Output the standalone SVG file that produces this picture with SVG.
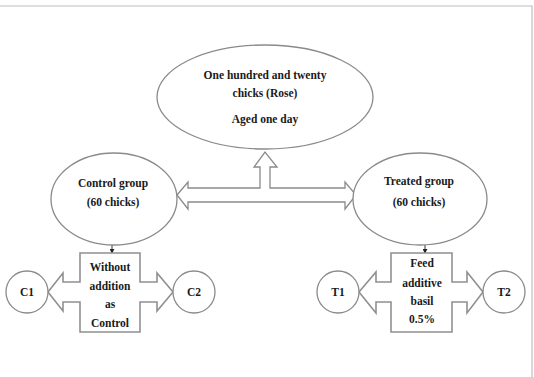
<svg xmlns="http://www.w3.org/2000/svg" width="534" height="377" viewBox="0 0 534 377">
<defs>
<style>
.shape{fill:#fff;stroke:#8a8a8a;stroke-width:1.3}
.blk{fill:#fff;stroke:#909090;stroke-width:1.6}
.t{font-family:'Liberation Serif','DejaVu Serif',serif;font-weight:700;font-size:11.5px;fill:#1a1a1a;text-anchor:middle}
.lk{stroke:#333;stroke-width:1}
</style>
<marker id="ah" viewBox="0 0 6 6" refX="5" refY="3" markerWidth="5" markerHeight="5" orient="auto">
<path d="M0,0 L6,3 L0,6 z" fill="#222"/>
</marker>
</defs>
<rect x="0" y="0" width="534" height="377" fill="#fff"/>
<path d="M0,6 H532 V377" fill="none" stroke="#bdbdbd" stroke-width="1.2"/>

<g id="connectors">
<polygon class="shape" points="177,195 188,182 188,188 260,188 260,167 254,167 265,152 277,167 270,167 270,188 345,188 345,182 356,195 345,209 345,202 188,202 188,209"/>
<line class="lk" x1="112" y1="245" x2="112" y2="253" marker-end="url(#ah)"/>
<line class="lk" x1="425" y1="245" x2="425" y2="253" marker-end="url(#ah)"/>
</g>

<g id="top">
<ellipse class="shape" cx="265" cy="97" rx="108" ry="52"/>
<text class="t" x="265" y="79" font-family="Liberation Serif">One hundred and twenty</text>
<text class="t" x="265" y="97">chicks (Rose)</text>
<text class="t" x="265" y="123">Aged one day</text>
</g>

<g id="control">
<ellipse class="shape" cx="114" cy="199" rx="63" ry="46"/>
<text class="t" x="113" y="187">Control group</text>
<text class="t" x="113" y="206">(60 chicks)</text>
</g>

<g id="treated">
<ellipse class="shape" cx="420" cy="199" rx="67" ry="46"/>
<text class="t" x="419" y="185">Treated group</text>
<text class="t" x="419" y="206">(60 chicks)</text>
</g>

<g id="control-box">
<polygon class="blk" points="80,253 140,253 140,282 157,282 157,273 173,292 157,311 157,302 140,302 140,332 80,332 80,302 63,302 63,311 48,292 63,273 63,282 80,282"/>
<text class="t" x="110" y="271">Without</text>
<text class="t" x="110" y="290">addition</text>
<text class="t" x="110" y="308">as</text>
<text class="t" x="110" y="327">Control</text>
</g>

<g id="treated-box">
<polygon class="blk" points="391,253 452,253 452,282 467,282 467,272 483,292 467,313 467,302 452,302 452,332 391,332 391,302 376,302 376,313 359,292 376,272 376,282 391,282"/>
<text class="t" x="422" y="267">Feed</text>
<text class="t" x="422" y="287">additive</text>
<text class="t" x="422" y="305">basil</text>
<text class="t" x="422" y="323">0.5%</text>
</g>

<g id="C1">
<circle class="shape" cx="27" cy="292" r="21"/>
<text class="t" x="27" y="296">C1</text>
</g>
<g id="C2">
<circle class="shape" cx="194" cy="292" r="21"/>
<text class="t" x="194" y="296">C2</text>
</g>
<g id="T1">
<circle class="shape" cx="338" cy="292" r="21"/>
<text class="t" x="338" y="296">T1</text>
</g>
<g id="T2">
<circle class="shape" cx="504" cy="292" r="21"/>
<text class="t" x="504" y="296">T2</text>
</g>
</svg>
